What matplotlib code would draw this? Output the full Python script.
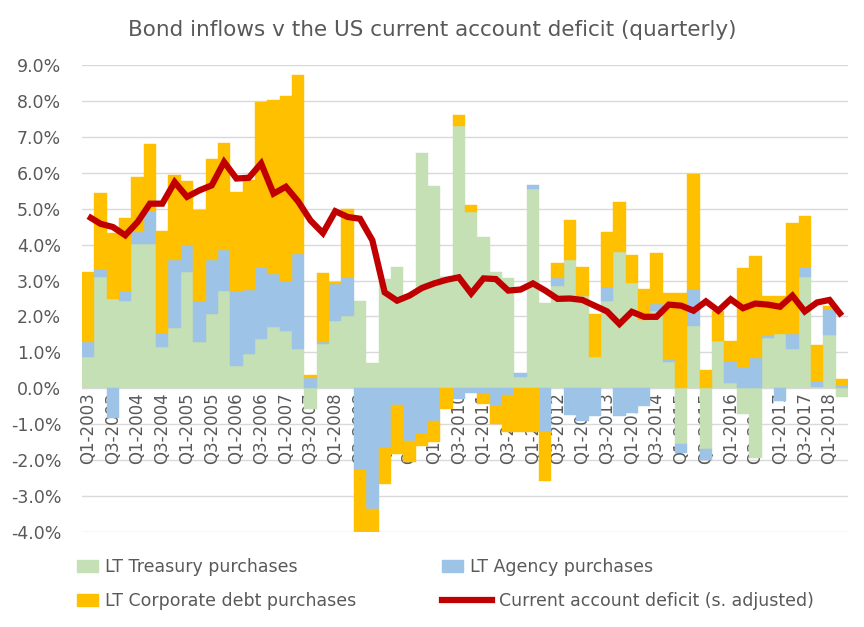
import matplotlib
matplotlib.use("Agg")
import matplotlib.pyplot as plt
import numpy as np
from matplotlib.lines import Line2D
from matplotlib.patches import Patch

# quarterly data, Q1-2003 .. Q2-2018, % of GDP
quarters = [f"Q{q}-{y}" for y in range(2003, 2019) for q in (1, 2, 3, 4)][:62]

treasury = [0.86, 3.11, 2.50, 2.44, 4.02, 4.02, 1.15, 1.69, 3.23, 1.30,
            2.07, 2.72, 0.62, 0.95, 1.37, 1.72, 1.60, 1.09, -0.58, 1.23,
            1.86, 2.00, 2.42, 0.70, 3.04, 3.37, 2.60, 6.56, 5.62, 3.10,
            7.30, 4.91, 4.21, 3.25, 3.07, 0.32, 5.56, 2.37, 2.86, 3.56,
            2.56, 0.86, 2.42, 3.79, 2.93, 1.90, 2.16, 0.74, -1.56, 1.74,
            -1.70, 1.32, 0.16, -0.72, -1.93, 1.40, 1.51, 1.09, 3.09, 0.04,
            1.49, -0.24]
agency = [0.42, 0.21, -0.82, 0.28, 0.33, 0.91, 0.40, 1.87, 0.75, 1.14,
          1.51, 1.14, 2.10, 1.79, 2.02, 1.45, 1.40, 2.65, 0.30, 0.07,
          1.04, 1.09, -2.28, -3.35, -1.65, -0.46, -1.46, -1.26, -0.91, 0.00,
          -0.30, -0.12, -0.17, -0.49, -0.18, 0.10, 0.09, -1.23, 0.22, -0.74,
          -0.90, -0.77, 0.41, -0.78, -0.68, -0.49, 0.20, 0.07, -0.23, 1.02,
          -0.30, 0.00, 0.61, 0.58, 0.83, 0.09, -0.35, 0.42, 0.28, 0.15,
          0.71, 0.10]
corporate = [1.95, 2.12, 1.82, 2.02, 1.53, 1.86, 2.84, 2.37, 1.80, 2.51,
             2.80, 2.96, 2.75, 3.06, 4.59, 4.85, 5.13, 4.99, 0.07, 1.90,
             0.07, 1.91, -1.72, -0.65, -1.00, -1.36, -0.58, -0.34, -0.58, -0.58,
             0.31, 0.20, -0.27, -0.51, -1.05, -1.23, -1.23, -1.35, 0.40, 1.13,
             0.83, 1.21, 1.51, 1.41, 0.79, 0.87, 1.40, 1.85, 2.65, 3.21,
             0.51, 0.84, 0.55, 2.76, 2.84, 1.07, 1.05, 3.09, 1.42, 1.02,
             0.08, 0.15]
ca_deficit = [4.79, 4.58, 4.49, 4.26, 4.63, 5.14, 5.14, 5.74, 5.33, 5.51,
              5.65, 6.30, 5.84, 5.86, 6.26, 5.42, 5.61, 5.20, 4.67, 4.32,
              4.93, 4.77, 4.72, 4.12, 2.67, 2.44, 2.58, 2.79, 2.92, 3.02,
              3.09, 2.64, 3.06, 3.04, 2.72, 2.75, 2.92, 2.72, 2.49, 2.50,
              2.46, 2.30, 2.14, 1.79, 2.13, 1.99, 1.99, 2.33, 2.30, 2.16,
              2.42, 2.16, 2.48, 2.23, 2.36, 2.33, 2.27, 2.58, 2.14, 2.39,
              2.46, 2.02]

series = [("LT Treasury purchases", treasury, "#C5E0B4"),
          ("LT Agency purchases", agency, "#9DC3E6"),
          ("LT Corporate debt purchases", corporate, "#FFC000")]
red = "#C00000"
txt = "#595959"

fig = plt.figure(figsize=(8.64, 6.27), dpi=100)
ax = fig.add_axes([82/864, 1-532/627, 766/864, 467/627])

x = np.arange(len(quarters))
pos_base = np.zeros(len(x))
neg_base = np.zeros(len(x))
for name, vals, col in series:
    v = np.array(vals)
    bottom = np.where(v >= 0, pos_base, neg_base)
    ax.bar(x, v, bottom=bottom, width=1.0, color=col, edgecolor=col,
           linewidth=0.3, zorder=2)
    pos_base += np.where(v >= 0, v, 0)
    neg_base += np.where(v < 0, v, 0)

ax.plot(x, ca_deficit, color=red, lw=4.5, zorder=4,
        solid_joinstyle="miter", solid_capstyle="butt")

# axes
ax.set_xlim(-0.5, len(x) - 0.5)
ax.set_ylim(-4, 9)
yt = np.arange(-4, 10)
ax.set_yticks(yt)
ax.set_yticklabels([f"{v:.1f}%" for v in yt], fontsize=12.5, color=txt)
for v in yt:
    ax.axhline(v, color="#D9D9D9", lw=1.0, zorder=0)
for s in ax.spines.values():
    s.set_visible(False)
ax.spines["bottom"].set_position(("data", 0))
ax.set_xticks(x[::2])
ax.set_xticklabels(quarters[::2], rotation=90, fontsize=12, color=txt)
ax.tick_params(axis="both", length=0)
ax.tick_params(axis="x", pad=3)
ax.tick_params(axis="y", pad=15)
for lab in ax.get_xticklabels():
    lab.set_zorder(5)

fig.text(0.5, 1-30/627, "Bond inflows v the US current account deficit (quarterly)",
         ha="center", va="center", fontsize=15.5, color=txt)

# legend: separate pieces so patch and line handles get their own lengths
leg_kw = dict(loc="upper left", frameon=False, fontsize=12.5, labelcolor=txt,
              handletextpad=0.4, labelspacing=0.95, borderaxespad=0)
fig.legend(handles=[Patch(color=series[0][2], label=series[0][0]),
                    Patch(color=series[2][2], label=series[2][0])],
           bbox_to_anchor=(70/864, 1-551/627), handlelength=1.2, **leg_kw)
fig.legend(handles=[Patch(color=series[1][2], label=series[1][0])],
           bbox_to_anchor=(435/864, 1-551/627), handlelength=1.2, **leg_kw)
fig.legend(handles=[Line2D([], [], color=red, lw=4.5,
                           label="Current account deficit (s. adjusted)")],
           bbox_to_anchor=(435/864, 1-585/627), handlelength=2.9, **leg_kw)

fig.savefig("out.png", dpi=100)
